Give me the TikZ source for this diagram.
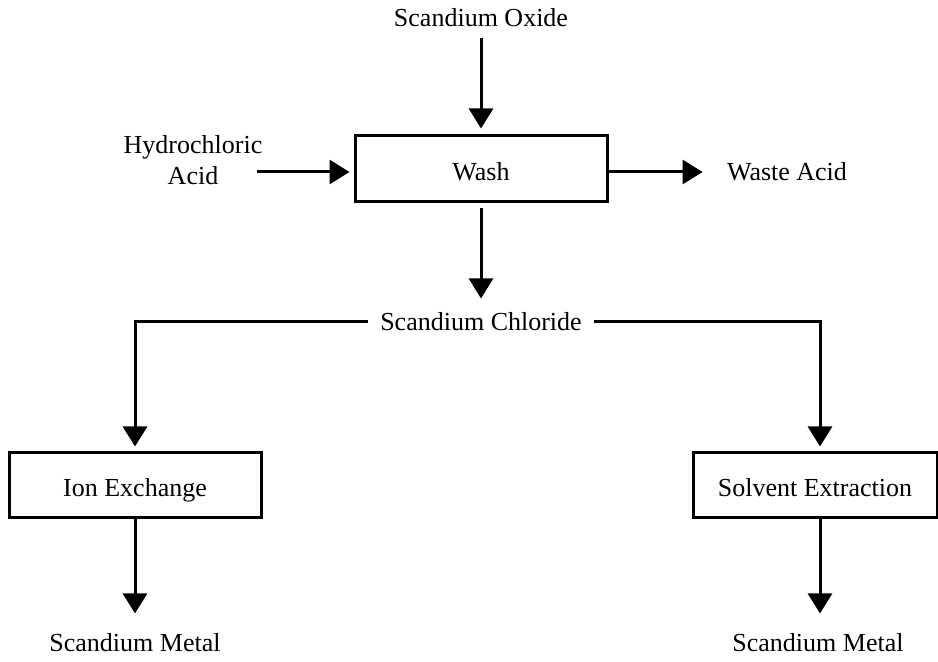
\documentclass[tikz,border=0pt]{standalone}
\usepackage{fontspec}
\setmainfont{Liberation Serif}
\usetikzlibrary{arrows.meta}
\begin{document}
\begin{tikzpicture}[x=0.5pt,y=-0.5pt,
  every node/.style={font=\fontsize{13}{15.5}\selectfont},
  label/.style={inner sep=0pt, align=center},
  unit/.style={draw, line width=1.5pt, inner sep=0pt, text height=12pt, text depth=0.5pt},
  flow/.style={line width=1.5pt, -{Triangle[length=10pt,width=12pt]}}]
\useasboundingbox (0,0) rectangle (938,662);
% process units
\node[unit, minimum width=126pt, minimum height=33pt] (wash) at (481,169) {Wash};
\node[unit, minimum width=126pt, minimum height=32.5pt] (ion) at (135,485.5) {Ion Exchange};
\node[unit, minimum width=122pt, minimum height=32.5pt] (sx) at (815,485.5) {Solvent Extraction};
% streams
\node[label] (oxide) at (481,18) {Scandium Oxide};
\node[label] (hcl) at (193,160) {Hydrochloric\\Acid};
\coordinate (hclout) at (257,172);
\node[label] (waste) at (787,172) {Waste Acid};
\node[label, inner xsep=6pt, inner ysep=7pt] (chl) at (481,322) {Scandium Chloride};
\node[label] (m1) at (135,643) {Scandium Metal};
\node[label] (m2) at (818,643) {Scandium Metal};
\coordinate (sxin) at (820,0);
% connectors
\draw[flow, shorten <=5pt, shorten >=3pt] (oxide) -- (wash);
\draw[flow, shorten >=2pt] (hclout) -- (wash.west |- hclout);
\draw[flow, shorten >=12pt] (wash.east |- hclout) -- (waste.west |- hclout);
\draw[flow, shorten <=2.5pt] (wash.south) -- (chl.north);
\draw[flow, shorten >=2.5pt] (chl.west) -| (ion.north);
\draw[flow, shorten >=2.5pt] (chl.east) -| (sx.north -| sxin);
\draw[flow, shorten >=10pt] (ion.south) -- (ion.south |- m1.north);
\draw[flow, shorten >=10pt] (sx.south -| sxin) -- (m2.north -| sxin);
\end{tikzpicture}
\end{document}
